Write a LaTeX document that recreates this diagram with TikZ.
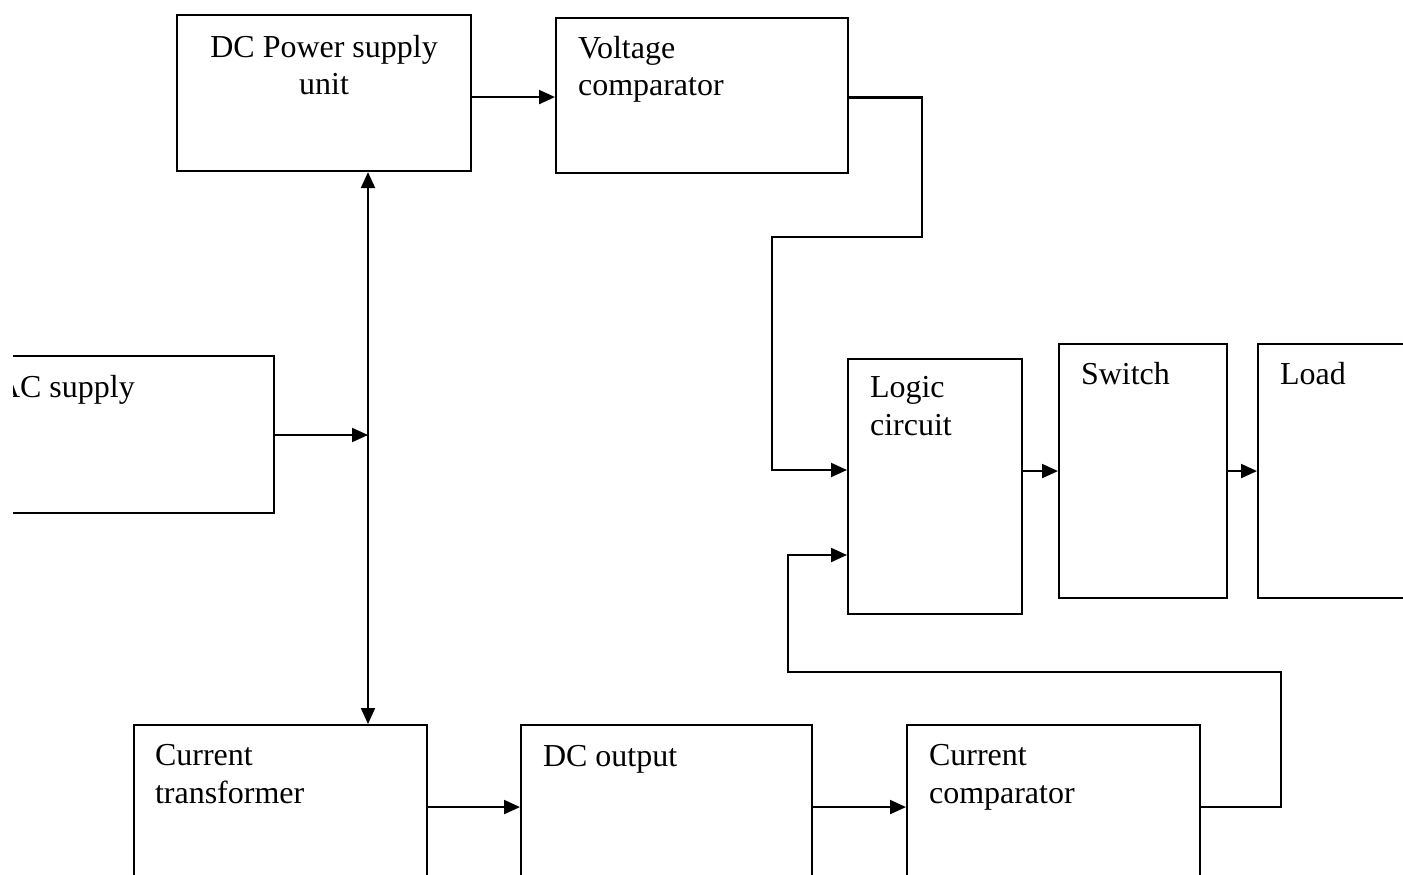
\documentclass[tikz,border=0pt]{standalone}
\usepackage{fontspec}
\setmainfont{Liberation Serif}
\usetikzlibrary{arrows.meta}

\begin{document}
\begin{tikzpicture}[>={Triangle[length=1.6mm,width=1.4mm]}, line width=0.6pt,
    blk/.style={draw, anchor=north west, inner sep=0pt},
    txt/.style={anchor=base west, align=left, inner sep=0pt, font=\fontsize{9.1}{10.8}\selectfont}]
    \useasboundingbox (0,0) rectangle (14.03,8.74);
    \clip (0.13,0) rectangle (14.03,8.74);
    % blocks
    \node[blk, minimum width=2.94cm, minimum height=1.56cm] (psu) at (1.76,8.60) {};
    \node[blk, minimum width=2.92cm, minimum height=1.55cm] (vcomp) at (5.55,8.57) {};
    \node[blk, minimum width=3.03cm, minimum height=1.57cm] (ac) at (-0.30,5.19) {};
    \node[blk, minimum width=1.74cm, minimum height=2.55cm] (logic) at (8.47,5.16) {};
    \node[blk, minimum width=1.68cm, minimum height=2.54cm] (switch) at (10.58,5.31) {};
    \node[blk, minimum width=2.03cm, minimum height=2.54cm] (load) at (12.57,5.31) {};
    \node[blk, minimum width=2.93cm, minimum height=1.64cm] (ct) at (1.33,1.50) {};
    \node[blk, minimum width=2.91cm, minimum height=1.64cm] (dcout) at (5.20,1.50) {};
    \node[blk, minimum width=2.93cm, minimum height=1.64cm] (ccomp) at (9.06,1.50) {};
    % labels (base = last line)
    \node[txt, anchor=base, align=center] (psu-t) at ([yshift=-0.81cm]psu.north) {DC Power supply\\unit};
    \node[txt] (vcomp-t) at ([shift={(0.22,-0.79)}]vcomp.north west) {Voltage\\comparator};
    \node[txt] (ac-t) at ([shift={(0.26,-0.42)}]ac.north west) {AC supply};
    \node[txt] (logic-t) at ([shift={(0.22,-0.77)}]logic.north west) {Logic\\circuit};
    \node[txt] (switch-t) at ([shift={(0.22,-0.41)}]switch.north west) {Switch};
    \node[txt] (load-t) at ([shift={(0.22,-0.41)}]load.north west) {Load};
    \node[txt] (ct-t) at ([shift={(0.21,-0.79)}]ct.north west) {Current\\transformer};
    \node[txt] (dcout-t) at ([shift={(0.22,-0.42)}]dcout.north west) {DC output};
    \node[txt] (ccomp-t) at ([shift={(0.22,-0.79)}]ccomp.north west) {Current\\comparator};
    % connectors
    \coordinate (bus) at (3.68,4.39);
    \draw[->] ([yshift=-0.04cm]psu.east) -- ([yshift=-0.04cm]vcomp.west |- psu.east);
    \draw[<->] (psu.south -| bus) -- (ct.north -| bus);
    \draw[->] (ac.east |- bus) -- (bus);
    \draw[->] ([yshift=-0.02cm]vcomp.east) -| (9.22,6.37) -- (7.72,6.37) |- ([yshift=-1.12cm]logic.north west);
    \draw[->] (ccomp.east) -| (12.81,2.02) -- (7.88,2.02) |- ([yshift=-1.97cm]logic.north west);
    \draw[->] (logic.east |- switch.west) -- (switch.west);
    \draw[->] (switch.east) -- (load.west);
    \draw[->] (ct.east) -- (dcout.west);
    \draw[->] (dcout.east) -- (ccomp.west);
\end{tikzpicture}
\end{document}
